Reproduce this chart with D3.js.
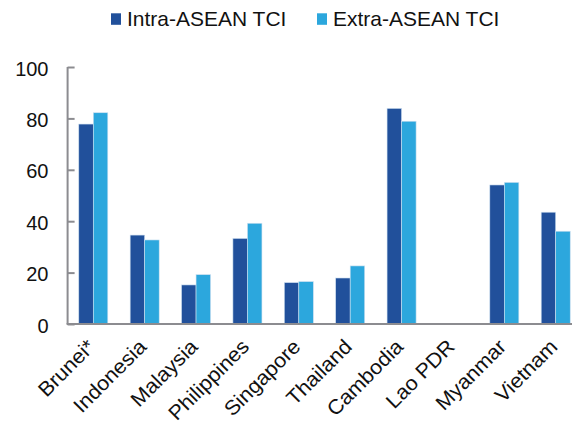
<!DOCTYPE html>
<html>
<head>
<meta charset="utf-8">
<script src="https://cdn.jsdelivr.net/npm/d3@7"></script>
<style>
  body { margin: 0; background: #fff; }
  svg { font-family: "Liberation Sans", Arial, sans-serif; }
</style>
</head>
<body>
<svg id="chart" width="572" height="423"></svg>
<script>
// data
const countries = ["Brunei*", "Indonesia", "Malaysia", "Philippines", "Singapore",
                   "Thailand", "Cambodia", "Lao PDR", "Myanmar", "Vietnam"];
const intraTCI = [77.8, 34.6, 15.2, 33.3, 16.1, 17.9, 83.9, null, 54.1, 43.5];
const extraTCI = [82.2, 32.7, 19.2, 39.2, 16.5, 22.6, 78.9, null, 55.1, 36.1];
const yTicks = [0, 20, 40, 60, 80, 100];
const seriesNames = ["Intra-ASEAN TCI", "Extra-ASEAN TCI"];
const colors = ["#21509b", "#2ca7dd"];

const svg = d3.select("#chart");
const x0 = 67.6, x1 = 581.4, yTop = 67, yBottom = 324;

let x = d3.scaleBand().domain(countries).range([x0, x1]).paddingInner(0.435).paddingOuter(0.2175);
let xSub = d3.scaleBand().domain([0, 1]).range([0, x.bandwidth()]);
let y = d3.scaleLinear().domain([0, 100]).range([yBottom, yTop]);

// bars
const series = [intraTCI, extraTCI];
series.forEach((vals, s) => {
    svg.append("g").selectAll("rect")
        .data(countries.map((c, i) => ({ c, v: vals[i] })).filter(d => d.v != null))
        .join("rect")
        .attr("x", d => x(d.c) + xSub(s))
        .attr("y", d => y(d.v))
        .attr("width", xSub.bandwidth())
        .attr("height", d => y(0) - y(d.v))
        .attr("fill", colors[s])
        .attr("stroke", "#cfe0f0")
        .attr("stroke-width", 0.6);
});

// y axis
let yAxis = d3.axisRight(y).tickValues(yTicks).tickSize(7).tickFormat("");
let gy = svg.append("g").attr("transform", `translate(${x0},0)`).call(yAxis);
gy.select(".domain").attr("d", `M0,${yTop}H0V${yBottom}`);
gy.selectAll("path,line").attr("stroke", "#8c8c90").attr("stroke-width", 2);

svg.append("g").selectAll("text").data(yTicks).join("text")
    .attr("x", 48.5)
    .attr("y", d => y(d) + 8.5)
    .attr("text-anchor", "end")
    .attr("font-size", 20)
    .attr("fill", "#111")
    .text(d => d);

// x axis line
svg.append("line")
    .attr("x1", x0 - 1).attr("x2", 572)
    .attr("y1", yBottom).attr("y2", yBottom)
    .attr("stroke", "#8c8c90").attr("stroke-width", 2);

// x labels
svg.append("g").selectAll("text").data(countries).join("text")
    .attr("transform", d => `translate(${x(d) + x.bandwidth() / 2 + 3},${yBottom + 24}) rotate(-45) scale(1.05,1)`)
    .attr("text-anchor", "end")
    .attr("font-size", 20.5)
    .attr("fill", "#111")
    .text(d => d);

// legend
const legendX = [111, 317];
seriesNames.forEach((n, i) => {
    svg.append("rect")
        .attr("x", legendX[i]).attr("y", 13.3)
        .attr("width", 10).attr("height", 11.5)
        .attr("fill", colors[i]);
    svg.append("text")
        .attr("transform", `translate(${legendX[i] + 16},25.7) scale(1.05,1)`)
        .attr("font-size", 20)
        .attr("fill", "#111")
        .text(n);
});
</script>
</body>
</html>
